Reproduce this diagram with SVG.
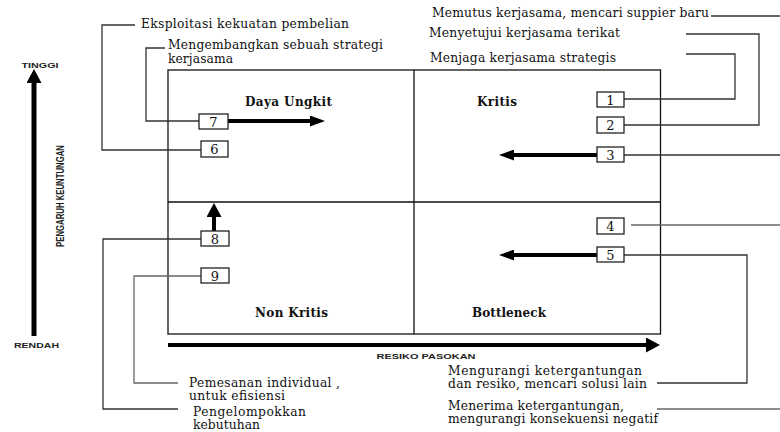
<svg xmlns="http://www.w3.org/2000/svg" width="780" height="432" viewBox="0 0 780 432">
<style>
.t{font-family:"DejaVu Serif","Liberation Serif",serif;font-size:12.3px;fill:#111}
.q{font-family:"DejaVu Serif","Liberation Serif",serif;font-size:12px;font-weight:bold;fill:#111}
.n{font-family:"DejaVu Serif","Liberation Serif",serif;font-size:13px;fill:#111;text-anchor:middle}
.s{font-family:"Liberation Sans",Arial,sans-serif;font-size:8px;font-weight:bold;fill:#222}
.box{fill:#fff;stroke:#222;stroke-width:1.3}
.frame{fill:none;stroke:#111;stroke-width:1.3}
.c{fill:none;stroke:#333;stroke-width:1.3}
.g{fill:none;stroke:#666;stroke-width:1.3}
.th{stroke:#000;stroke-width:4;fill:none}
</style>
<defs>
<marker id="ah" markerUnits="userSpaceOnUse" markerWidth="15" markerHeight="11" refX="0" refY="5.5" orient="auto">
<path d="M0,0 L15,5.5 L0,11 z" fill="#000"/>
</marker>
<marker id="ahL" markerUnits="userSpaceOnUse" markerWidth="14" markerHeight="15" refX="0" refY="7.5" orient="auto">
<path d="M0,0 L14,7.5 L0,15 z" fill="#000"/>
</marker>
</defs>

<g id="axes">
<line x1="34" y1="336" x2="34" y2="83" stroke="#000" stroke-width="5" marker-end="url(#ahL)"/>
<text class="s" x="40" y="68" text-anchor="middle" textLength="37" lengthAdjust="spacingAndGlyphs">TINGGI</text>
<text class="s" x="36.5" y="348" text-anchor="middle" textLength="45" lengthAdjust="spacingAndGlyphs">RENDAH</text>
<text class="s" transform="translate(64,196) rotate(-90)" text-anchor="middle" style="font-size:10px" textLength="102" lengthAdjust="spacingAndGlyphs">PENGARUH KEUNTUNGAN</text>
<line x1="168" y1="345" x2="646" y2="345" stroke="#000" stroke-width="4" marker-end="url(#ahL)"/>
<text class="s" x="426" y="359" text-anchor="middle" textLength="99" lengthAdjust="spacingAndGlyphs">RESIKO PASOKAN</text>
</g>

<g id="matrix">
<rect class="frame" x="168" y="70" width="492.5" height="264"/>
<line class="frame" x1="414" y1="70" x2="414" y2="334"/>
<line class="frame" x1="168" y1="202" x2="660.5" y2="202"/>
<text class="q" x="245" y="106" textLength="87">Daya Ungkit</text>
<text class="q" x="477" y="106" textLength="40">Kritis</text>
<text class="q" x="255" y="317" textLength="73">Non Kritis</text>
<text class="q" x="472" y="317" textLength="74">Bottleneck</text>
</g>

<g id="connectors">
<polyline class="c" points="135,25 102,25 102,150 201,150"/>
<polyline class="c" points="165,48 146,48 146,121 199,121"/>
<polyline class="c" points="201,239 103,239 103,409 178,409"/>
<polyline class="g" points="201,276 134,276 134,383 178,383"/>
<line class="c" x1="711" y1="16" x2="780" y2="16"/>
<polyline class="c" points="686,34 759,34 759,125 624,125"/>
<polyline class="c" points="686,54 735,54 735,99 624,99"/>
<line class="c" x1="624" y1="155" x2="780" y2="155"/>
<line class="g" x1="631" y1="225" x2="780" y2="225"/>
<polyline class="c" points="624,255 747,255 747,383 657,383"/>
<line class="g" x1="657" y1="409" x2="780" y2="409"/>
<line class="th" x1="228" y1="121" x2="310" y2="121" marker-end="url(#ah)"/>
<line class="th" x1="597" y1="155" x2="514" y2="155" marker-end="url(#ah)"/>
<line class="th" x1="597" y1="255" x2="514" y2="255" marker-end="url(#ah)"/>
<line class="th" x1="214" y1="231" x2="214" y2="217" marker-end="url(#ahL)"/>
</g>

<g id="n1"><rect class="box" x="597" y="92" width="27" height="15"/><text class="n" x="610.5" y="104.5">1</text></g>
<g id="n2"><rect class="box" x="597" y="117" width="27" height="16"/><text class="n" x="610.5" y="130">2</text></g>
<g id="n3"><rect class="box" x="597" y="147" width="27" height="15"/><text class="n" x="610.5" y="159.5">3</text></g>
<g id="n4"><rect class="box" x="597" y="218" width="27" height="16"/><text class="n" x="610.5" y="231">4</text></g>
<g id="n5"><rect class="box" x="597" y="247" width="27" height="15"/><text class="n" x="610.5" y="259.5">5</text></g>
<g id="n6"><rect class="box" x="201" y="141" width="27" height="16"/><text class="n" x="214.5" y="154">6</text></g>
<g id="n7"><rect class="box" x="199" y="114" width="29" height="15"/><text class="n" x="213.5" y="126.5">7</text></g>
<g id="n8"><rect class="box" x="201" y="231" width="28" height="15"/><text class="n" x="215" y="243.5">8</text></g>
<g id="n9"><rect class="box" x="201" y="268" width="28" height="15"/><text class="n" x="215" y="280.5">9</text></g>

<g id="labels">
<text class="t" x="141" y="28" textLength="208">Eksploitasi kekuatan pembelian</text>
<text class="t" x="168" y="49" textLength="215">Mengembangkan sebuah strategi</text>
<text class="t" x="168" y="63" textLength="65">kerjasama</text>
<text class="t" x="432" y="17" textLength="277">Memutus kerjasama, mencari suppier baru</text>
<text class="t" x="429" y="37" textLength="191">Menyetujui kerjasama terikat</text>
<text class="t" x="430" y="62" textLength="186">Menjaga kerjasama strategis</text>
<text class="t" x="448" y="375" textLength="194">Mengurangi ketergantungan</text>
<text class="t" x="448" y="388" textLength="199">dan resiko, mencari solusi lain</text>
<text class="t" x="448" y="410" textLength="176">Menerima ketergantungan,</text>
<text class="t" x="448" y="423" textLength="210">mengurangi konsekuensi negatif</text>
<text class="t" x="189" y="387" textLength="151">Pemesanan individual ,</text>
<text class="t" x="189" y="400" textLength="96">untuk efisiensi</text>
<text class="t" x="193" y="416" textLength="113">Pengelompokkan</text>
<text class="t" x="193" y="429" textLength="67">kebutuhan</text>
</g>
</svg>
